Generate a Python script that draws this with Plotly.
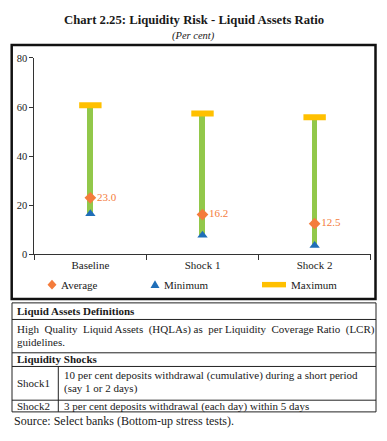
import plotly.graph_objects as go

# ---------------- data ----------------
categories = ["Baseline", "Shock 1", "Shock 2"]
average = [23.0, 16.2, 12.5]
minimum = [16.5, 7.8, 3.6]
maximum = [60.7, 57.4, 55.8]
y_ticks = [0, 20, 40, 60, 80]
legend_labels = ["Average", "Minimum", "Maximum"]

W, H = 387, 441
FONT = "Liberation Serif"
C_AVG = "#F47C3C"
C_MIN = "#1F6EB8"
C_MAX = "#FFC000"
C_RNG = "#92C84A"


def px(x):
    return x / W


def py(y):
    return 1 - y / H


fig = go.Figure()

# range bar (min -> max)
fig.add_trace(go.Bar(
    x=categories,
    y=[mx - mn for mx, mn in zip(maximum, minimum)],
    base=minimum,
    width=0.05,
    marker=dict(color=C_RNG, line=dict(width=0)),
    showlegend=False,
    hoverinfo="skip",
))

# maximum marker
fig.add_trace(go.Scatter(
    x=categories, y=maximum, mode="markers", name=legend_labels[2],
    marker=dict(symbol="line-ew", size=16, color=C_MAX,
                line=dict(color=C_MAX, width=6)),
    showlegend=False,
))

# minimum
fig.add_trace(go.Scatter(
    x=categories, y=minimum, mode="markers", name=legend_labels[1],
    marker=dict(symbol="triangle-up", size=9, color=C_MIN),
    showlegend=False,
))

# average
fig.add_trace(go.Scatter(
    x=categories, y=average, mode="markers+text", name=legend_labels[0],
    marker=dict(symbol="diamond", size=9, color=C_AVG),
    text=[f"{v:.1f}" for v in average],
    textposition="middle right",
    textfont=dict(family=FONT, size=11, color=C_AVG),
    showlegend=False,
))

shapes = []
# outer chart box
shapes.append(dict(type="rect", xref="paper", yref="paper",
                   x0=px(11.7), x1=px(375.5), y0=py(301.5), y1=py(41),
                   line=dict(color="#111111", width=2.5)))
# table
shapes.append(dict(type="rect", xref="paper", yref="paper",
                   x0=px(12), x1=px(376), y0=py(417.3), y1=py(305.5),
                   line=dict(color="#222222", width=1)))
for yy in [322.5, 356.7, 370.7, 405.3]:
    shapes.append(dict(type="line", xref="paper", yref="paper",
                       x0=px(12), x1=px(376), y0=py(yy), y1=py(yy),
                       line=dict(color="#222222", width=1)))
shapes.append(dict(type="line", xref="paper", yref="paper",
                   x0=px(58.3), x1=px(58.3), y0=py(370.7), y1=py(417.3),
                   line=dict(color="#222222", width=1)))


# legend keys (custom legend row)
def path_shape(points, color):
    d = "M " + " L ".join(f"{px(a):.5f},{py(b):.5f}" for a, b in points) + " Z"
    return dict(type="path", xref="paper", yref="paper", path=d,
                fillcolor=color, line=dict(width=0))


LY = 286.8
shapes.append(path_shape([(52, LY - 5), (56.5, LY), (52, LY + 5), (47.5, LY)], C_AVG))
shapes.append(path_shape([(155, LY - 4.5), (159.5, LY + 3.5), (150.5, LY + 3.5)], C_MIN))
shapes.append(dict(type="rect", xref="paper", yref="paper",
                   x0=px(262), x1=px(286), y0=py(LY + 2.8), y1=py(LY - 2.8),
                   fillcolor=C_MAX, line=dict(width=0)))

TXT = "#1a1a1a"
ann = []


def add_text(x, y, s, size=11, bold=False, xanchor="left"):
    ann.append(dict(xref="paper", yref="paper", x=px(x), y=py(y),
                    text=f"<b>{s}</b>" if bold else s,
                    showarrow=False, xanchor=xanchor, yanchor="middle",
                    font=dict(family=FONT, size=size, color=TXT)))


# legend labels
for lx, lab in zip([59, 162, 289], legend_labels):
    add_text(lx, LY, lab, size=11)

# titles
ann.append(dict(xref="paper", yref="paper", x=px(193.5), y=py(15),
                text="<b>Chart 2.25: Liquidity Risk - Liquid Assets Ratio</b>",
                showarrow=False, xanchor="center", yanchor="middle",
                font=dict(family=FONT, size=12.7, color=TXT)))
ann.append(dict(xref="paper", yref="paper", x=px(193.5), y=py(32),
                text="<i>(Per cent)</i>",
                showarrow=False, xanchor="center", yanchor="middle",
                font=dict(family=FONT, size=10.5, color=TXT)))

# justified first line (widened word spacing in most gaps)
line1 = "High Quality Liquid Assets (HQLAs) as per Liquidity Coverage Ratio (LCR)"
words = line1.split(" ")
wide_gaps = {0, 1, 3, 5, 7, 9}
line1_just = words[0]
for i, w in enumerate(words[1:]):
    line1_just += ("\u00a0 " if i in wide_gaps else " ") + w

add_text(15, 314, "Liquid Assets Definitions", bold=True)
add_text(15, 333, line1_just)
add_text(15, 346, "guidelines.")
add_text(15, 363.5, "Liquidity Shocks", bold=True)
add_text(15, 388, "Shock1")
add_text(62, 380, "10 per cent deposits withdrawal (cumulative) during a short period")
add_text(62, 393, "(say 1 or 2 days)")
add_text(15, 411.5, "Shock2")
add_text(62, 411.5, "3 per cent deposits withdrawal (each day) within 5 days")
ann.append(dict(xref="paper", yref="paper", x=px(12), y=py(427),
                text="Source: Select banks (Bottom-up stress tests).",
                showarrow=False, xanchor="left", yanchor="middle",
                font=dict(family=FONT, size=12, color=TXT)))

fig.update_layout(
    width=W, height=H,
    margin=dict(l=0, r=0, t=0, b=0),
    paper_bgcolor="white", plot_bgcolor="white",
    bargap=0,
    xaxis=dict(domain=[px(34.3), px(370.7)], type="category",
               range=[-0.5, 2.5],
               showline=True, linecolor="#333333", linewidth=1,
               ticks="outside", tickson="boundaries", ticklen=5,
               tickcolor="#333333",
               tickfont=dict(family=FONT, size=11, color=TXT),
               showgrid=False, zeroline=False, fixedrange=True),
    yaxis=dict(domain=[py(255.7), py(54.3)], range=[0, 80],
               tickvals=y_ticks,
               showline=True, linecolor="#333333", linewidth=1,
               ticks="outside", ticklen=4, tickcolor="#333333",
               tickfont=dict(family=FONT, size=10.5, color=TXT),
               showgrid=False, zeroline=False, fixedrange=True),
    shapes=shapes,
    annotations=ann,
    showlegend=False,
)

fig.write_html("out.html",
               config={"displayModeBar": False},
               post_script="document.body.style.margin='0px';")
